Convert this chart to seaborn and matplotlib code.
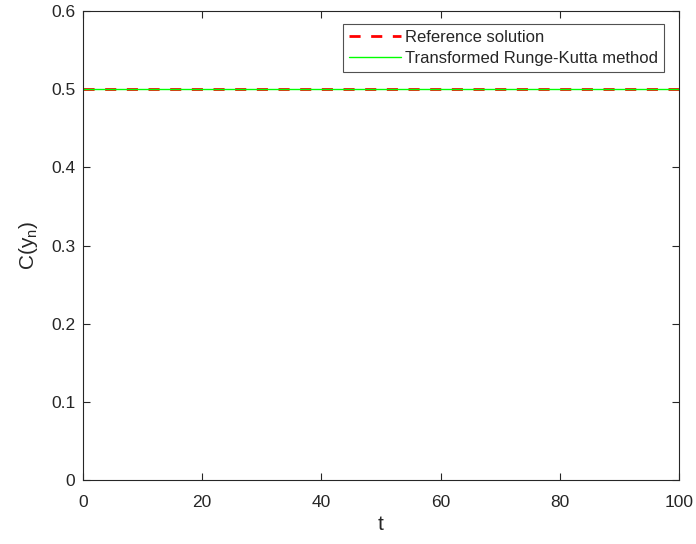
import numpy as np
import pandas as pd
import matplotlib
matplotlib.use("Agg")
import matplotlib.pyplot as plt
import seaborn as sns

# Data
t_values = [0, 100]
reference_solution = [0.5, 0.5]
transformed_rk = [0.5, 0.5]
x_ticks = [0, 20, 40, 60, 80, 100]
y_ticks = [0, 0.1, 0.2, 0.3, 0.4, 0.5, 0.6]
y_tick_labels = ["0", "0.1", "0.2", "0.3", "0.4", "0.5", "0.6"]

sns.set_theme(style="white")
plt.rcParams['font.family'] = ['Liberation Sans', 'DejaVu Sans']
plt.rcParams['mathtext.fontset'] = 'custom'
plt.rcParams['mathtext.rm'] = 'Liberation Sans'

fig = plt.figure(figsize=(6.96, 5.44), dpi=100)
ax = fig.add_axes([83/696, 1 - 480/544, (679 - 83)/696, (480 - 11)/544])

df_ref = pd.DataFrame({"t": t_values, "C": reference_solution})
df_rk = pd.DataFrame({"t": t_values, "C": transformed_rk})

sns.lineplot(data=df_ref, x="t", y="C", ax=ax, color="#ff0000", linewidth=2.0,
             linestyle=(0, (4.0, 3.8)), label="Reference solution")
sns.lineplot(data=df_rk, x="t", y="C", ax=ax, color="#00ff00", linewidth=1.0,
             label="Transformed Runge-Kutta method")

ax.set_xlim(0, 100)
ax.set_ylim(0, 0.6)
ax.set_xticks(x_ticks)
ax.set_xticklabels([str(v) for v in x_ticks])
ax.set_yticks(y_ticks)
ax.set_yticklabels(y_tick_labels)

for s in ax.spines.values():
    s.set_visible(True)
    s.set_color("#262626")
    s.set_linewidth(0.8)

ax.tick_params(axis="both", direction="in", length=5, width=0.8, colors="#262626",
               labelsize=12.5, top=True, right=True, bottom=True, left=True,
               labelcolor="#262626")
ax.tick_params(axis="x", pad=10.5)
ax.tick_params(axis="y", pad=5.5)

ax.set_xlabel("t", fontsize=15, color="#262626", labelpad=4)
ax.set_ylabel("C(y$_{\\mathregular{n}}$)", fontsize=15, color="#262626", labelpad=8)

leg = ax.legend(loc="upper right", bbox_to_anchor=(664/696, 1 - 24/544),
                bbox_transform=fig.transFigure, fontsize=12, frameon=True,
                fancybox=False, edgecolor="#262626", handlelength=3.15,
                handletextpad=0.25, borderpad=0.35, labelspacing=0.35,
                borderaxespad=0)
leg.get_frame().set_linewidth(0.8)

fig.savefig("out.png", dpi=100)
